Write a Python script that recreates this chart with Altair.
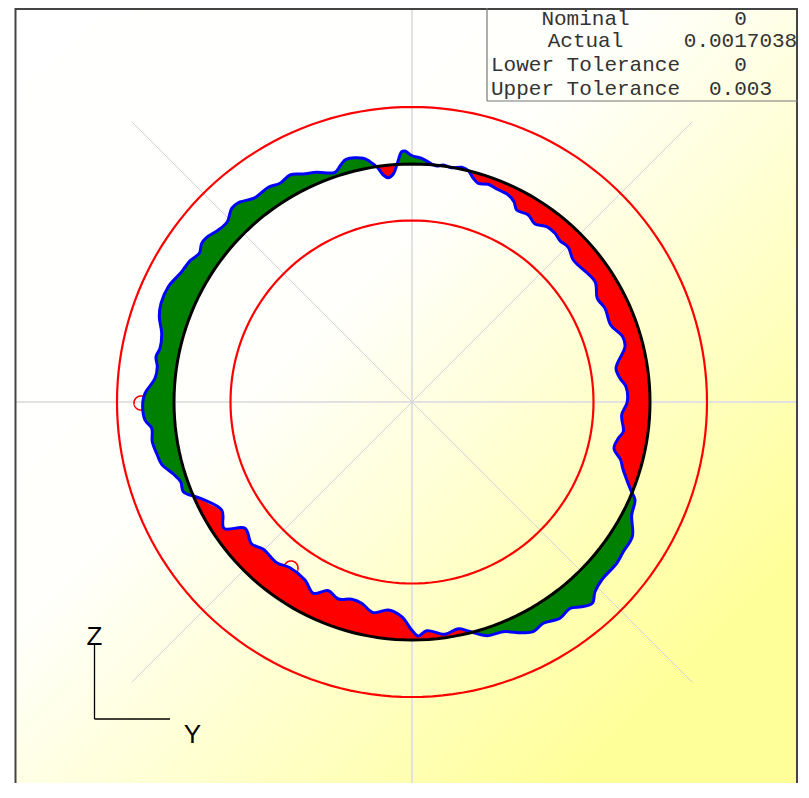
import math
import altair as alt
import pandas as pd

# Measured profile, clockwise from the left-hand crossing (Y, Z relative to the centre)
profile_px = [
 (193.5,496),(183.3,491.7),(180.7,481.7),(173.3,474),(161.7,464.3),(157.3,455),(152.3,441.7),(151.7,428.3),
 (145,420),(142.7,403.3),(145,393.3),(155,378.3),(157.3,366.7),(156,356.7),(160,348.3),(161.7,333.3),
 (159.3,316.7),(161,303.3),(168.3,286.7),(181.7,271.7),(190,260.7),(199.3,253.3),(201.7,243.3),(206.7,237.3),
 (218.3,230),(227.3,221.7),(231.7,208.3),(238.3,202.7),(255,197.7),(268.3,187.3),(280,183.3),(290,175),
 (303.3,174),(316.7,172.3),(335,172.3),(340.7,165),(346,159.3),(363.3,158.3),(370,161.7),(377.3,167.3),
 (383.3,175),(388.3,177.7),(393.3,174),(397.3,163.3),(401.7,151.7),(405,151),(411.7,155.5),(421.7,158.3),
 (431.7,164),(436.7,166),(443.3,165),(451.7,167.7),(461.7,167.3),(468.3,170.7),(473.3,178.3),(478.3,183.3),
 (488.3,184.3),(496.7,189),(508.3,195),(514,201.7),(516.7,210),(528.3,215),(535,224),(546.7,226.7),
 (555,233.3),(560,240.7),(568.3,247.3),(573.3,260),(595,281.7),(597.3,298.3),(605,308.3),(610.7,325),
 (622.7,336.7),(625,346.7),(616,368.3),(620,378.3),(626,386.7),(627.3,401.7),(621.7,415),(623.3,431.7),
 (618.3,438.3),(614,448.3),(620.7,460),(622.7,468.3),(630.7,490),(635,500),(631.7,515),(632.3,536.7),
 (623.3,551.7),(616.7,563.3),(601.7,580),(595,591.7),(592.3,603.3),(581.7,606.7),(570,608.3),(560,618.3),
 (543.3,623.3),(533.3,631.7),(521.7,632.7),(503.3,631.7),(487.3,635.7),(468.3,631),(458.3,628.7),(445,634.3),
 (426.7,630.7),(418.3,636),(411.7,630),(401.7,616.7),(388.3,610),(373.3,612.7),(361.7,603.3),(351.7,599.3),
 (338.3,599),(328.3,590.7),(313.3,593.3),(305,580),(290,567.7),(276.7,562.7),(263.3,549.3),(251.7,544),
 (245,528.3),(224,528.3),(221.7,510),(193.5,496),
]
CX, CY = 412, 402
R_NOM, R_UP, R_LOW = 238, 295, 181.5
markers = [(141, 403, 7), (291, 568, 7)]
table_left = ["Nominal", "Actual", "Lower Tolerance", "Upper Tolerance"]
table_right = ["0", "0.0017038", "0", "0.003"]
table_rows = [18.5, 41, 65, 89]

ys = [p[0] - CX for p in profile_px]
zs = [CY - p[1] for p in profile_px]

def circle(r, cy=0.0, cz=0.0, name="c"):
    return pd.DataFrame([{"y": cy + r * math.cos(math.radians(a)), "z": cz + r * math.sin(math.radians(a)), "i": a, "name": name}
                         for a in range(0, 361, 2)])

# split profile into runs outside / inside the nominal circle
runs, cur, sign = [], [], None
for y, z in zip(ys, zs):
    d = math.hypot(y, z) - R_NOM
    s = 1 if d >= 0 else -1
    if sign is not None and s != sign:
        py, pz = cur[-1]
        pd0 = math.hypot(py, pz) - R_NOM
        t = pd0 / (pd0 - d) if pd0 != d else 0
        cross = (py + (y - py) * t, pz + (z - pz) * t)
        cur.append(cross)
        runs.append((sign, cur))
        cur = [cross]
    sign = s
    cur.append((y, z))
runs.append((sign, cur))

rows = []
for n, (s, pts) in enumerate(runs):
    a0 = math.atan2(pts[0][1], pts[0][0])
    a1 = math.atan2(pts[-1][1], pts[-1][0])
    # profile runs clockwise, so the return along the circle is counter-clockwise
    while a0 < a1:
        a0 += 2 * math.pi
    seq = list(pts)
    steps = max(2, int((a0 - a1) / math.radians(1.5)))
    for k in range(steps + 1):
        a = a1 + (a0 - a1) * k / steps
        seq.append((R_NOM * math.cos(a), R_NOM * math.sin(a)))
    for i, (y, z) in enumerate(seq):
        rows.append({"y": y, "z": z, "i": i, "name": f"r{n}", "sign": s})
fills = pd.DataFrame(rows)

W, H = 790, 775
R_EDGE, B_EDGE = 8 + W, 8 + H
xs = alt.Scale(domain=[8 - CX, R_EDGE - CX], range=[0, W], nice=False, zero=False)
yscale = alt.Scale(domain=[CY - 8, CY - B_EDGE], range=[0, H], nice=False, zero=False)
X = alt.X("y:Q", scale=xs, axis=None)
Y = alt.Y("z:Q", scale=yscale, axis=None)

def path(df, color, width, **kw):
    return alt.Chart(df).mark_line(color=color, strokeWidth=width, **kw).encode(
        x=X, y=Y, order=alt.Order("i:Q"), detail="name:N")

grad = alt.LinearGradient(gradient="linear", x1=0, y1=0, x2=1, y2=1, stops=[
    alt.GradientStop(offset=0, color="#ffffff"),
    alt.GradientStop(offset=0.4, color="#fffffc"),
    alt.GradientStop(offset=0.86, color="#ffff99"),
    alt.GradientStop(offset=1, color="#ffff99"),
])
bg = alt.Chart(pd.DataFrame({"a": [0]})).mark_rect(color=grad).encode(
    x=alt.value(8), x2=alt.value(W), y=alt.value(0), y2=alt.value(H))

def seg(df, color, width):
    return alt.Chart(df).mark_rule(color=color, strokeWidth=width).encode(
        x=alt.X("x1:Q", scale=xs, axis=None), x2="x2:Q",
        y=alt.Y("y1:Q", scale=yscale, axis=None), y2="y2:Q")

D = 280.5
TOP, BOT, RIGHT = CY - 8, CY - B_EDGE, R_EDGE - CX
grid_hv = seg(pd.DataFrame({"x1": [15 - CX, 0], "x2": [RIGHT, 0], "y1": [0, TOP], "y2": [0, BOT]}), "#e2e2e2", 2)
grid_d = seg(pd.DataFrame({"x1": [-D, -D], "x2": [D, D], "y1": [D, -D], "y2": [-D, D]}), "#d2d2d8", 1)

circles = pd.concat([circle(R_UP, name="up"), circle(R_LOW, name="low")])
small = pd.concat([circle(r, mx - CX, CY - my, f"m{k}") for k, (mx, my, r) in enumerate(markers)])
fill_layers = [
    alt.Chart(fills[fills.name == nm]).mark_line(fill="#008000" if fills[fills.name == nm].sign.iloc[0] > 0 else "#ff0000",
                                                 stroke="transparent", strokeWidth=0).encode(
        x=X, y=Y, order=alt.Order("i:Q"))
    for nm in fills.name.unique()
]
contour = path(pd.DataFrame({"y": ys, "z": zs, "i": range(len(ys)), "name": "p"}), "#0000ff", 3, interpolate="catmull-rom")
nominal = path(circle(R_NOM, name="n"), "#000000", 3)

frame = seg(pd.DataFrame({"x1": [15.5 - CX, 15.5 - CX, RIGHT - 1], "x2": [15.5 - CX, RIGHT, RIGHT - 1],
                          "y1": [TOP, TOP - 1, TOP], "y2": [BOT, TOP - 1, BOT]}), "#444444", 2)
box = seg(pd.DataFrame({"x1": [487 - CX, 487 - CX], "x2": [487 - CX, RIGHT], "y1": [TOP, CY - 101], "y2": [CY - 101, CY - 101]}), "#777777", 1.2)
triad = seg(pd.DataFrame({"x1": [94.5 - CX, 94.5 - CX], "x2": [94.5 - CX, 170 - CX], "y1": [CY - 645, CY - 719], "y2": [CY - 719, CY - 719]}), "#000000", 1.3)

def text(rows_, size, font, color):
    return alt.Chart(pd.DataFrame(rows_)).mark_text(fontSize=size, font=font, color=color, align="center", baseline="middle").encode(
        x=alt.X("x:Q", scale=xs, axis=None), y=alt.Y("y:Q", scale=yscale, axis=None), text="t:N")

cell_rows = []
for row_y, l, r in zip(table_rows, table_left, table_right):
    z = CY - row_y
    cell_rows.append({"x": 585.5 - CX, "y": z, "t": l})
    cell_rows.append({"x": 740.5 - CX, "y": z, "t": r})
cells = text(cell_rows, 21, "Liberation Mono", "#333333")
labels = text([{"x": 94.5 - CX, "y": CY - 637, "t": "Z"}, {"x": 192.5 - CX, "y": CY - 735, "t": "Y"}], 26, "Liberation Sans", "#000000")

chart = alt.layer(
    bg, grid_hv, grid_d,
    path(circles, "#ff0000", 2.2), path(small, "#ff0000", 1.6),
    *fill_layers, contour, nominal, frame, box, triad, cells, labels,
).properties(width=W, height=H, padding=0, background="#ffffff",
             autosize=alt.AutoSizeParams(type="none", contains="content")).configure_view(stroke=None)

chart.save("out.html", embed_options={"renderer": "svg", "actions": False})
